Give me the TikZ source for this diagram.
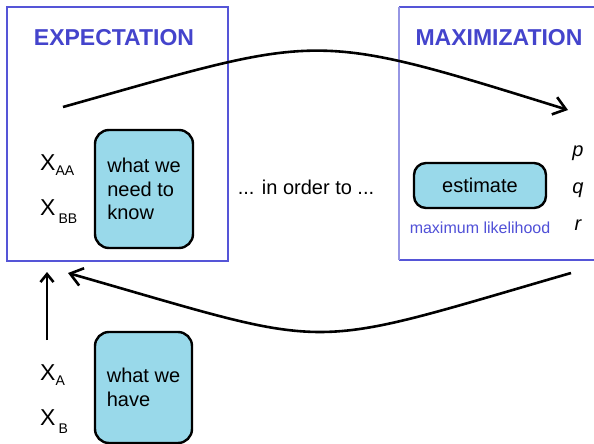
\documentclass[tikz,border=0pt]{standalone}
\usepackage{fontspec}
\setmainfont{Liberation Sans}
\usetikzlibrary{arrows.meta}
\definecolor{framecol}{RGB}{85,85,215}
\definecolor{framelight}{RGB}{150,150,228}
\definecolor{titlecol}{RGB}{68,68,204}
\definecolor{mlcol}{RGB}{80,80,215}
\definecolor{boxfill}{RGB}{153,217,234}
\begin{document}
\begin{tikzpicture}[x=1pt,y=-1pt,
  frame/.style={draw=framecol,line width=1.4pt},
  titletext/.style={font=\bfseries\fontsize{23}{23}\selectfont,text=titlecol,anchor=base,inner sep=0pt},
  bluebox/.style={draw=black,line width=2.4pt,fill=boxfill,rounded corners=14pt,align=left,font=\fontsize{20}{23.5}\selectfont,inner sep=0pt},
  lbl/.style={font=\fontsize{20}{23.5}\selectfont,anchor=base,inner sep=0pt},
  xlbl/.style={font=\fontsize{23}{23}\selectfont,anchor=base west,inner sep=0pt},
  arr/.style={line width=2.6pt,-{Straight Barb[length=12pt,width=18pt]}},
  smallarr/.style={line width=2.6pt,-{Straight Barb[length=8pt,width=13pt]}},
]
\useasboundingbox (0,0) rectangle (594,444);

% frames
\draw[frame] (7,7) rectangle (228,261);
\draw[frame] (604,7) -- (399,7);
\draw[frame] (399,260) -- (604,260);
\draw[draw=framelight,line width=1.4pt] (399,7) -- (399,260);

% titles
\node[titletext] (exp) at (114,46) {EXPECTATION};
\node[titletext] (max) at (499,46) {MAXIMIZATION};

% left box contents
\node[xlbl] (xaa) at (40,170) {X\raisebox{-5pt}{\fontsize{14}{14}\selectfont AA}};
\node[xlbl] (xbb) at (40,215) {X\hspace{3pt}\raisebox{-8pt}{\fontsize{14}{14}\selectfont BB}};
\node[bluebox,minimum width=98pt,minimum height=118pt] (need) at (144,189) {what we\\need to\\know};

% middle
\node[lbl] (order) at (306,194) {... in order to ...};

% right box contents
\node[bluebox,rounded corners=12pt,align=center,minimum width=132pt,minimum height=45pt] (est) at (480,185.5) {estimate};
\node[font=\fontsize{16}{16}\selectfont,text=mlcol,anchor=base,inner sep=0pt] (ml) at (480,233) {maximum likelihood};
\node[lbl,font=\itshape\fontsize{20}{20}\selectfont] (p) at (578,156) {p};
\node[lbl,font=\itshape\fontsize{20}{20}\selectfont] (q) at (578,193) {q};
\node[lbl,font=\itshape\fontsize{20}{20}\selectfont] (r) at (578,230) {r};

% bottom
\node[xlbl] (xa) at (40,380) {X\raisebox{-5pt}{\fontsize{14}{14}\selectfont A}};
\node[xlbl] (xb) at (40,425) {X\hspace{3pt}\raisebox{-8pt}{\fontsize{14}{14}\selectfont B}};
\node[bluebox,minimum width=97pt,minimum height=111pt] (have) at (143.5,387.5) {what we\\have};

% arrows
\coordinate (t1) at (63,107);
\coordinate (t2) at (568,110);
\draw[arr] (t1) .. controls (323,34) and (308,29) .. (t2);
\coordinate (b1) at (571,273);
\coordinate (b2) at (68,273);
\draw[arr] (b1) .. controls (298,352) and (341,351) .. (b2);
\coordinate (v1) at (47,340);
\coordinate (v2) at (47,272);
\draw[smallarr] (v1) -- (v2);
\end{tikzpicture}
\end{document}
